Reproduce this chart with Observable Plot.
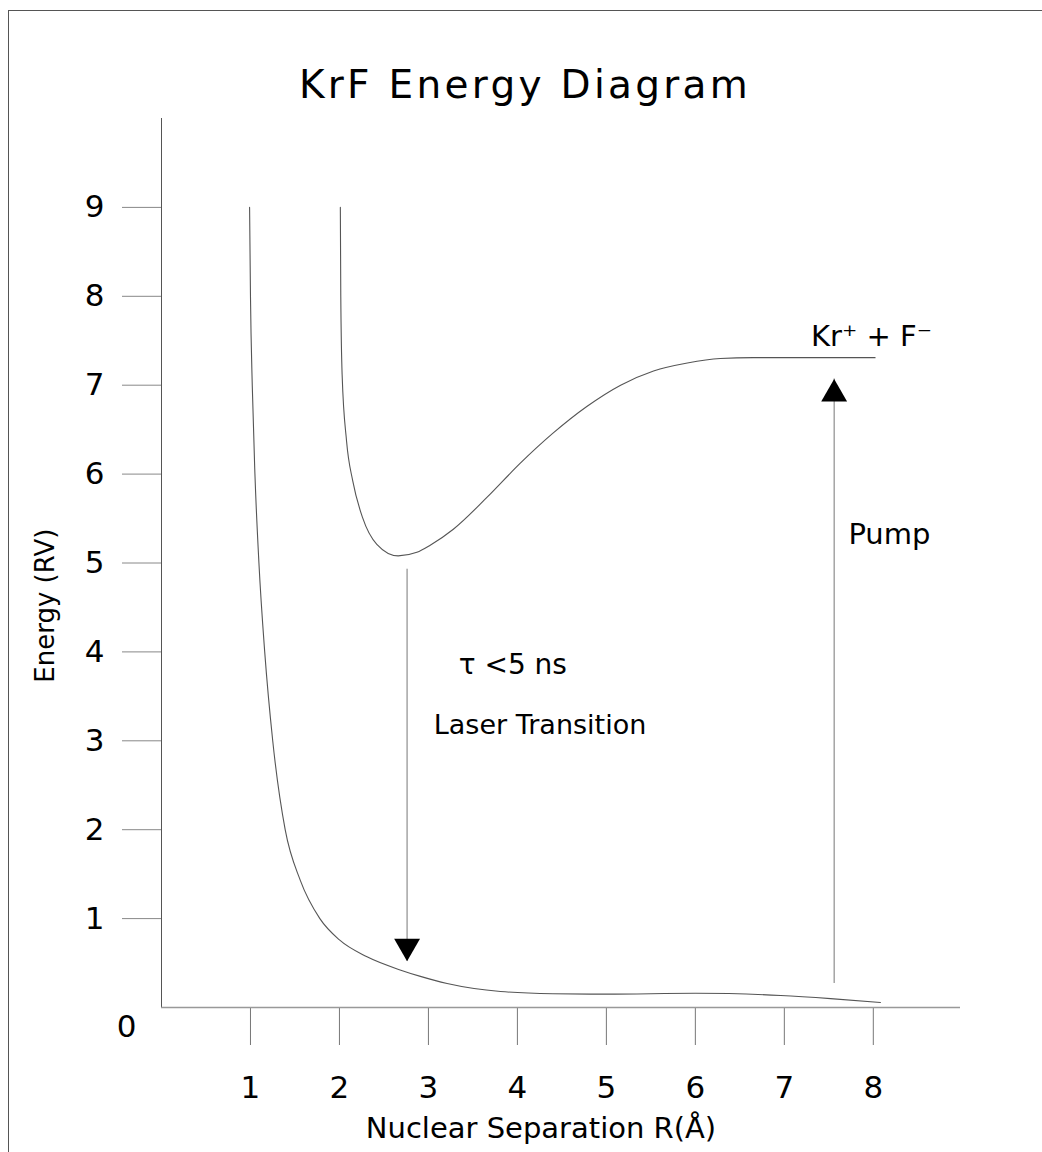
<!DOCTYPE html>
<html>
<head>
<meta charset="utf-8">
<script src="https://cdn.jsdelivr.net/npm/d3@7"></script>
<script src="https://cdn.jsdelivr.net/npm/@observablehq/plot@0.6"></script>
<style>
  html, body { margin: 0; padding: 0; background: #fff; }
  #wrap { position: relative; width: 1042px; height: 1152px; background: #fff; overflow: hidden; }
  #frame { position: absolute; left: 8px; top: 10px; right: -2px; bottom: -2px; border-left: 1px solid #555; border-top: 1px solid #555; }
  #title { position: absolute; top: 65px; left: 0; width: 1050px; text-align: center;
           font-family: "DejaVu Sans", sans-serif; font-size: 39px; line-height: 39px; letter-spacing: 3.3px; color: #000; }
  #chart { position: absolute; top: 115px; left: 0; }
</style>
</head>
<body>
<div id="wrap">
  <div id="frame"></div>
  <div id="title">KrF Energy Diagram</div>
  <div id="chart"></div>
</div>
<script>
// Tick labels
const xTicks = [1, 2, 3, 4, 5, 6, 7, 8];
const yTicks = [1, 2, 3, 4, 5, 6, 7, 8, 9];
const zeroLabel = ["0"];
const xLabel = "Nuclear Separation R(Å)";
const yLabel = "Energy (RV)";

// Ground state (repulsive) curve: separation (Å), energy
const groundX = [0.99, 1.0, 1.02, 1.05, 1.095, 1.16, 1.25, 1.39, 1.56, 1.78, 2.0, 2.31, 2.69, 2.91, 3.21, 3.81, 4.4, 5.0, 6.0, 6.96, 7.52, 8.08];
const groundY = [9.0, 8.0, 7.0, 6.0, 5.0, 4.0, 3.0, 2.0, 1.43, 1.0, 0.76, 0.57, 0.42, 0.35, 0.27, 0.18, 0.155, 0.15, 0.16, 0.135, 0.10, 0.056];

// Excited (ionic) state curve
const excitedX = [2.01, 2.015, 2.03, 2.08, 2.15, 2.26, 2.42, 2.66, 2.87, 3.02, 3.28, 3.66, 4.03, 4.40, 4.78, 5.16, 5.53, 5.91, 6.28, 6.65, 8.02];
const excitedY = [9.0, 8.0, 7.12, 6.37, 5.92, 5.51, 5.21, 5.08, 5.12, 5.20, 5.38, 5.74, 6.12, 6.46, 6.76, 7.00, 7.16, 7.25, 7.30, 7.31, 7.31];

// Arrows: x position, start energy, tip energy
const arrowNames = ["laser", "pump"];
const arrowX = [2.76, 7.56];
const arrowFrom = [4.93, 0.27];
const arrowTo = [0.52, 7.07];

// Annotations
const noteLabels = ["Kr⁺ + F⁻", "Pump", "τ <5 ns", "Laser Transition"];
const noteX = [7.30, 7.72, 3.34, 3.06];
const noteY = [7.44, 5.21, 3.75, 3.08];
const noteSize = [29, 29, 28, 27];

// Axis title placement (data units)
const yLabelPos = {x: 0, y: 4.52};

const ground = groundX.map((x, i) => ({x, y: groundY[i]}));
const excited = excitedX.map((x, i) => ({x, y: excitedY[i]}));
const arrows = arrowNames.map((name, i) => ({name, x: arrowX[i], from: arrowFrom[i], to: arrowTo[i]}));
const notes = noteLabels.map((label, i) => ({label, x: noteX[i], y: noteY[i], size: noteSize[i]}));

const font = "DejaVu Sans";

const chart = Plot.plot({
  width: 1042,
  height: 1037,
  marginLeft: 161,
  marginRight: 82,
  marginTop: 3,
  marginBottom: 145,
  x: {domain: [0, 8.98]},
  y: {domain: [0, 10]},
  style: {fontFamily: font, fontSize: "31px", color: "#000", background: "transparent", overflow: "visible"},
  marks: [
    Plot.axisY(yTicks, {tickSize: 39, tickPadding: 18, stroke: "#888", fontSize: 31, tickFormat: "d", label: null}),
    Plot.axisX(xTicks, {tickSize: 38, tickPadding: 30, stroke: "#777", fontSize: 31, tickFormat: "d", label: null}),
    Plot.text(zeroLabel, {x: 0, y: 0, text: d => d, dx: -35, dy: 20, fontSize: 31, fill: "#000"}),
    Plot.ruleX([0], {y1: 0, y2: 10, stroke: "#555", strokeWidth: 1}),
    Plot.ruleY([0], {x1: 0, x2: 8.98, stroke: "#999", strokeWidth: 1.6}),
    Plot.line(ground, {x: "x", y: "y", curve: "monotone-x", stroke: "#555", strokeWidth: 1.1}),
    Plot.line(excited, {x: "x", y: "y", curve: "monotone-x", stroke: "#555", strokeWidth: 1.1}),
    Plot.ruleX(arrows, {x: "x", y1: "from", y2: "to", stroke: "#777", strokeWidth: 1}),
    Plot.dot(arrows.filter(d => d.name === "laser"), {x: "x", y: "to", symbol: "triangle", r: 9.6, fill: "#000", stroke: null, rotate: 180, dy: -15}),
    Plot.dot(arrows.filter(d => d.name === "pump"), {x: "x", y: "to", symbol: "triangle", r: 9.6, fill: "#000", stroke: null, dy: 15}),
    Plot.text(notes, {x: "x", y: "y", text: "label", fontSize: d => d.size, textAnchor: "start", lineAnchor: "bottom", fill: "#000"}),
    Plot.text([xLabel], {frameAnchor: "bottom", text: d => d, dx: -20, dy: 130, lineAnchor: "bottom", fontSize: 29, fill: "#000"}),
    Plot.text([yLabel], {x: yLabelPos.x, y: yLabelPos.y, text: d => d, dx: -116, rotate: -90, lineAnchor: "middle", fontSize: 26, fill: "#000"})
  ]
});
document.getElementById("chart").appendChild(chart);
</script>
</body>
</html>
